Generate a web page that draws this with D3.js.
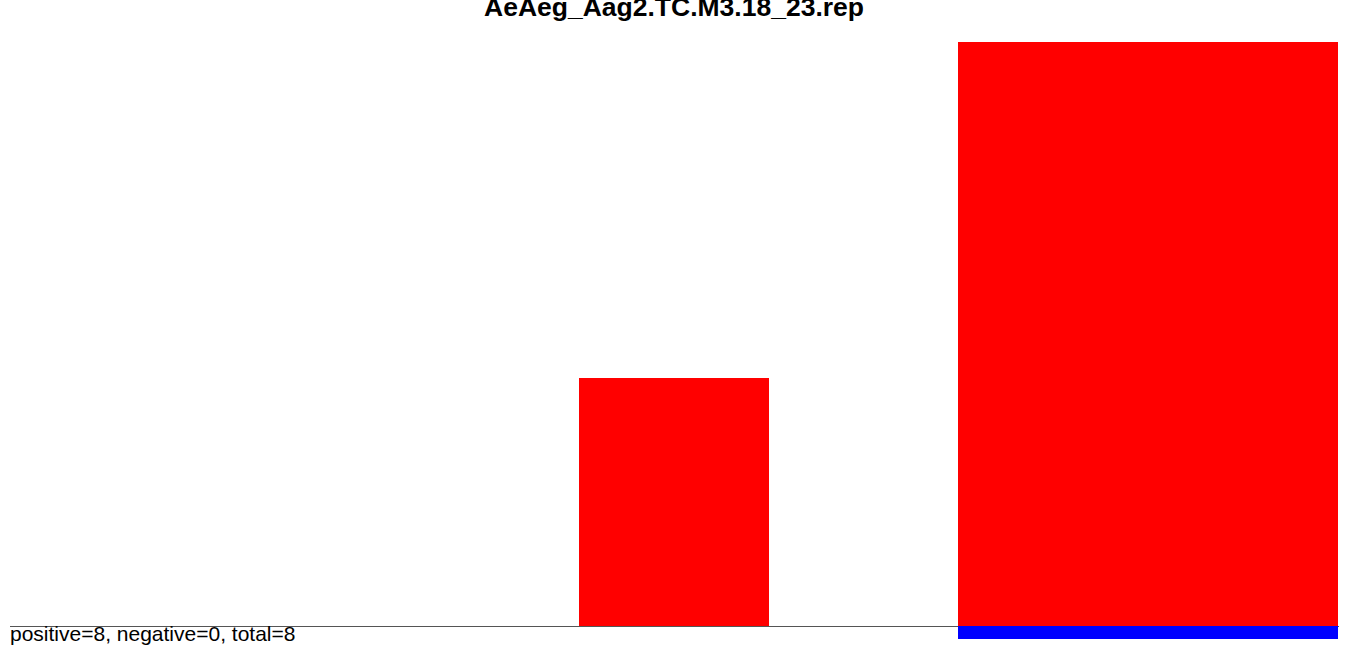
<!DOCTYPE html>
<html>
<head>
<meta charset="utf-8">
<script src="https://cdn.jsdelivr.net/npm/d3@7"></script>
<style>
html,body{margin:0;padding:0;background:#fff;}
svg{display:block;}
text{font-family:"Liberation Sans",Arial,sans-serif;}
</style>
</head>
<body>
<svg id="chart" width="1358" height="650"></svg>
<script>
const title = "AeAeg_Aag2.TC.M3.18_23.rep";
const categories = ["18","19","20","21","22","23","24"];
const positiveValues = [0, 0, 0, 2.97, 0, 7, 7];
const negativeValues = [0, 0, 0, 0, 0, -0.156, -0.156];
const summary = "positive=8, negative=0, total=8";

const svg = d3.select("#chart");
const x = d3.scaleBand().domain(categories).range([10, 1338]).padding(0);
const y = d3.scaleLinear().domain([0, 7]).range([626, 42]);

svg.append("text")
  .attr("x", 674).attr("y", 16)
  .attr("text-anchor", "middle")
  .attr("font-weight", "bold")
  .attr("font-size", 26.5)
  .text(title);

svg.append("line")
  .attr("x1", 10).attr("x2", 1339)
  .attr("y1", y(0) + 0.5).attr("y2", y(0) + 0.5)
  .attr("stroke", "#555").attr("stroke-width", 1);

const x0 = c => Math.floor(x(c));
const w = c => Math.round(x(c) + x.bandwidth()) - Math.floor(x(c));

svg.append("g").attr("shape-rendering", "crispEdges")
  .selectAll("rect").data(categories.map((c, i) => ({c, v: positiveValues[i]})).filter(d => d.v > 0))
  .join("rect")
  .attr("x", d => x0(d.c)).attr("width", d => w(d.c))
  .attr("y", d => y(d.v)).attr("height", d => y(0) - y(d.v))
  .attr("fill", "#ff0000");

svg.append("g").attr("shape-rendering", "crispEdges")
  .selectAll("rect").data(categories.map((c, i) => ({c, v: negativeValues[i]})).filter(d => d.v < 0))
  .join("rect")
  .attr("x", d => x0(d.c)).attr("width", d => w(d.c))
  .attr("y", y(0)).attr("height", d => y(d.v) - y(0))
  .attr("fill", "#0000ff");

svg.append("text")
  .attr("x", 10).attr("y", 641)
  .attr("font-size", 21)
  .text(summary);
</script>
</body>
</html>
